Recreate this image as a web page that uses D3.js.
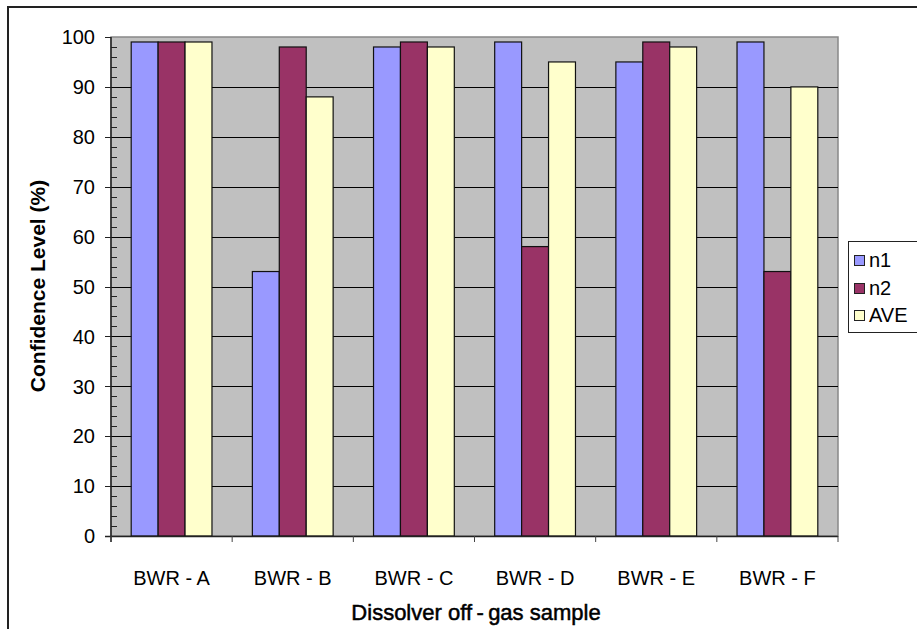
<!DOCTYPE html>
<html>
<head>
<meta charset="utf-8">
<script src="https://cdn.jsdelivr.net/npm/d3@7"></script>
<style>
  html, body { margin: 0; padding: 0; background: #fff; }
  svg { display: block; }
  text { font-family: Arial, "Liberation Sans", sans-serif; fill: #000; }
</style>
</head>
<body>
<svg id="chart" width="917" height="629"></svg>
<script>
const categories = ["BWR-A", "BWR-B", "BWR-C", "BWR-D", "BWR-E", "BWR-F"];
const seriesNames = ["n1", "n2", "AVE"];
const n1 = [99, 53, 98, 99, 95, 99];
const n2 = [99, 98, 99, 58, 99, 53];
const ave = [99, 88, 98, 95, 98, 90];
const yTicks = [0, 10, 20, 30, 40, 50, 60, 70, 80, 90, 100];
const colors = ["#9999FF", "#993366", "#FFFFCC"];

(function () {
const seriesValues = [n1, n2, ave];
const svg = d3.select("#chart");

// outer frame (clipped on right/bottom)
svg.append("rect").attr("x", 8).attr("y", 7).attr("width", 940).attr("height", 660)
  .attr("fill", "none").attr("stroke", "#222").attr("stroke-width", 2);

const pL = 111, pR = 838, pT = 37, pB = 536;

const x = d3.scaleBand().domain(categories).range([pL, pR]).paddingInner(0).paddingOuter(0);
const xInner = d3.scaleBand().domain(seriesNames).range([0, x.bandwidth()]).paddingInner(0).paddingOuter(0.75);
const y = d3.scaleLinear().domain([0, 100]).range([pB, pT]);

// plot area
svg.append("rect").attr("x", pL).attr("y", pT).attr("width", pR - pL).attr("height", pB - pT)
  .attr("fill", "#C0C0C0").attr("stroke", "#888").attr("stroke-width", 1.5);

// gridlines
svg.append("g").selectAll("line").data(yTicks.filter(d => d > 0 && d < 100)).join("line")
  .attr("x1", pL).attr("x2", pR)
  .attr("y1", d => Math.round(y(d)) + 0.5).attr("y2", d => Math.round(y(d)) + 0.5)
  .attr("stroke", "#000").attr("stroke-width", 1);

// bars
const groups = svg.append("g").selectAll("g").data(categories).join("g")
  .attr("transform", d => `translate(${x(d)},0)`);
groups.selectAll("rect").data((c, i) => seriesNames.map((s, j) => ({ s, v: seriesValues[j][i], j })))
  .join("rect")
  .attr("x", d => xInner(d.s))
  .attr("width", xInner.bandwidth())
  .attr("y", d => y(d.v))
  .attr("height", d => pB - y(d.v))
  .attr("fill", d => colors[d.j])
  .attr("stroke", "#111").attr("stroke-width", 1.2);

// y axis
const yAxis = svg.append("g").attr("transform", `translate(${pL},0)`);
yAxis.append("line").attr("x1", 0).attr("x2", 0).attr("y1", pT).attr("y2", pB + 6)
  .attr("stroke", "#222").attr("stroke-width", 1.5);
const minor = d3.range(0, 101, 2).filter(d => d % 10 !== 0);
yAxis.selectAll("line.minor").data(minor).join("line").attr("class", "minor")
  .attr("x1", 0).attr("x2", 6)
  .attr("y1", d => Math.round(y(d)) + 0.5).attr("y2", d => Math.round(y(d)) + 0.5)
  .attr("stroke", "#222");
yAxis.selectAll("line.major").data(yTicks).join("line").attr("class", "major")
  .attr("x1", -6).attr("x2", 0)
  .attr("y1", d => Math.round(y(d)) + 0.5).attr("y2", d => Math.round(y(d)) + 0.5)
  .attr("stroke", "#222");
yAxis.selectAll("text").data(yTicks).join("text")
  .attr("x", -16).attr("y", d => y(d)).attr("dy", "0.36em")
  .attr("text-anchor", "end").attr("font-size", 20).text(d => d);

// x axis
const xAxis = svg.append("g");
xAxis.append("line").attr("x1", pL - 6).attr("x2", pR).attr("y1", pB + 0.5).attr("y2", pB + 0.5)
  .attr("stroke", "#222").attr("stroke-width", 1.5);
const boundaries = categories.map(c => x(c)).concat([pR]);
xAxis.selectAll("line.tick").data(boundaries).join("line").attr("class", "tick")
  .attr("x1", d => d).attr("x2", d => d).attr("y1", pB).attr("y2", pB + 6)
  .attr("stroke", "#444");
xAxis.selectAll("text").data(categories).join("text")
  .attr("x", d => x(d) + x.bandwidth() / 2).attr("y", 578).attr("dy", "0.36em")
  .attr("text-anchor", "middle").attr("font-size", 20)
  .text(d => d.replace("-", " - "));

// axis titles
svg.append("text").attr("transform", "translate(37,286) rotate(-90)")
  .attr("text-anchor", "middle").attr("dy", "0.36em")
  .attr("font-size", 21).attr("font-weight", "bold").text("Confidence Level (%)");
svg.append("text").attr("x", 476).attr("y", 612).attr("dy", "0.36em")
  .attr("text-anchor", "middle").attr("font-size", 22)
  .attr("stroke", "#000").attr("stroke-width", 0.5)
  .text("Dissolver off\u2009-\u2009gas sample");

// legend
const lg = svg.append("g");
lg.append("rect").attr("x", 848.5).attr("y", 241.5).attr("width", 100).attr("height", 91)
  .attr("fill", "#fff").attr("stroke", "#222").attr("stroke-width", 1);
const ly = [260, 288, 315];
seriesNames.forEach((s, i) => {
  lg.append("rect").attr("x", 854.5).attr("y", ly[i] - 4.5).attr("width", 10).attr("height", 10)
    .attr("fill", colors[i]).attr("stroke", "#222");
  lg.append("text").attr("x", 869).attr("y", ly[i]).attr("dy", "0.36em")
    .attr("font-size", 20).text(s);
});
})();
</script>
</body>
</html>
